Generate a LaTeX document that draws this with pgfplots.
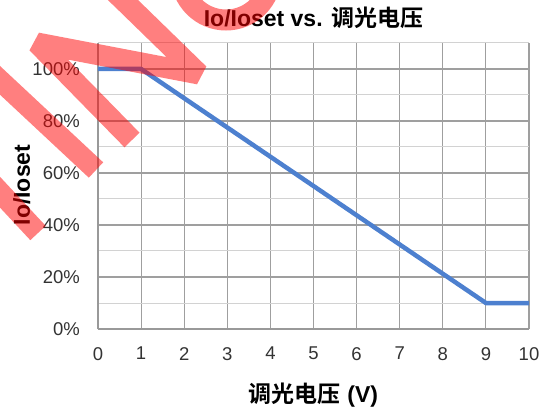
\documentclass[border=0pt]{standalone}
\usepackage{fontspec}
\setmainfont{Liberation Sans}
\newfontfamily\cjk{Noto Sans CJK SC}[BoldFont={Noto Sans CJK SC Bold}]
\usepackage{pgfplots}
\pgfplotsset{compat=1.18}
\definecolor{lineblue}{RGB}{77,128,207}
\begin{document}
\begin{tikzpicture}
\useasboundingbox (-98pt,-80pt) rectangle (450pt,329pt);
\begin{axis}[
  at={(0pt,0pt)}, anchor=south west,
  scale only axis, width=431pt, height=286pt,
  xmin=0, xmax=10, ymin=0, ymax=1.1,
  xtick={0,1,2,3,4,5,6,7,8,9,10},
  ytick={0,0.2,0.4,0.6,0.8,1.0},
  yticklabels={0\%,20\%,40\%,60\%,80\%,100\%},
  minor ytick={0.1,0.3,0.5,0.7,0.9,1.1},
  grid=both,
  major grid style={draw=gray!75, line width=1.1pt},
  minor grid style={draw=gray!35, line width=1pt},
  axis x line*=bottom, axis y line*=left,
  axis line style={-, draw=gray!80, line width=1.2pt},
  major tick length=0pt, minor tick length=0pt,
  tick style={draw=none},
  /pgf/number format/assume math mode=true,
  tick label style={font=\fontsize{18.5}{20}\selectfont, text=black!80},
  xticklabel style={anchor=north, inner sep=0pt, yshift=-18pt},
  yticklabel style={anchor=east, inner sep=0pt, xshift=-18pt},
  clip=false,
]
\addplot[lineblue, line width=4.5pt, line join=round] coordinates {(0,1) (1,1) (9,0.1) (10,0.1)};
\end{axis}
\node[anchor=base, inner sep=0pt, font=\bfseries\fontsize{23}{26}\selectfont] at (215.5pt,302pt) {Io/Ioset vs. {\cjk 调光电压}};
\node[anchor=base, inner sep=0pt, font=\bfseries\fontsize{23}{26}\selectfont] at (215.5pt,-73pt) {{\cjk 调光电压} (V)};
\node[rotate=90, anchor=base, inner sep=0pt, font=\bfseries\fontsize{23}{26}\selectfont] at (-68pt,144pt) {Io/Ioset};
\begin{scope}[shift={(-98pt,329pt)}, x=1pt, y=-1pt, draw=red, opacity=0.5, line width=21pt]
\draw (-30,160) -- (38,233);
\draw (-40,43) -- (96,170);
\draw[line join=bevel] (132,140) -- (37,43) -- (199,74) -- (123,0) -- (60,-60);
\draw (226,-25) circle[radius=45pt];
\end{scope}
\end{tikzpicture}
\end{document}
